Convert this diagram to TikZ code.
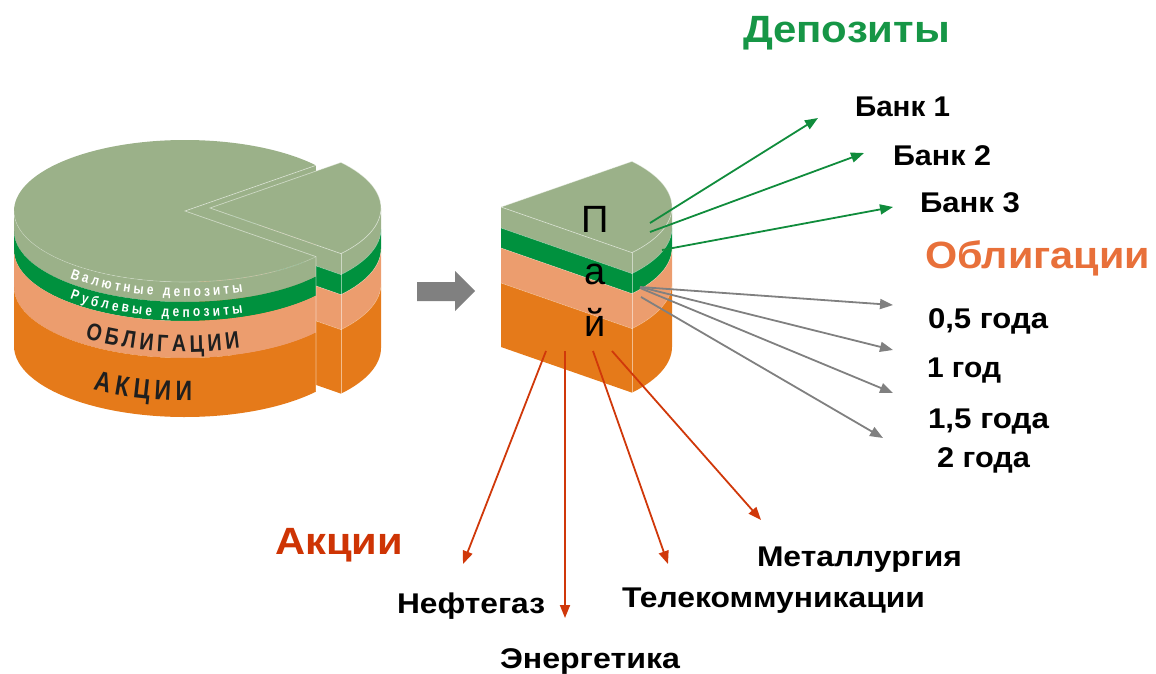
\documentclass[tikz,border=0pt]{standalone}
\usepackage{fontspec}
\setmainfont{Liberation Sans}
\newfontfamily\pienarrow[FakeStretch=0.82]{Liberation Sans}
\usetikzlibrary{calc,arrows.meta,decorations.text}
\definecolor{lgreen}{RGB}{155,177,137}
\definecolor{dgreen}{RGB}{0,145,62}
\definecolor{lorange}{RGB}{236,157,110}
\definecolor{dorange}{RGB}{229,122,26}
\definecolor{arrgreen}{RGB}{16,140,60}
\definecolor{arrgray}{RGB}{128,128,128}
\definecolor{arrred}{RGB}{208,56,10}
\definecolor{hgreen}{RGB}{22,150,70}
\definecolor{horange}{RGB}{232,112,58}
\definecolor{hred}{RGB}{206,52,4}
\newcommand\lbl[2]{\resizebox{#1pt}{\height}{\fontsize{28.5}{28.5}\selectfont\bfseries #2}}
\newcommand\hdl[2]{\resizebox{#1pt}{\height}{\fontsize{38}{38}\selectfont\bfseries #2}}
\newcommand\pieA{\pienarrow\fontsize{14.5}{14.5}\selectfont\bfseries}
\newcommand\pieB{\pienarrow\fontsize{24}{24}\selectfont\bfseries}
\newcommand\pieC{\pienarrow\fontsize{28}{28}\selectfont\bfseries}
\tikzset{
  edgeline/.style={draw=white, draw opacity=0.5, line width=0.7pt},
  faintline/.style={draw=white, draw opacity=0.3, line width=0.6pt},
  lab/.style={anchor=base west, inner sep=0pt, outer sep=0pt},
  garrow/.style={draw=arrgreen, line width=1.8pt, -{Triangle[length=13pt,width=10pt]}},
  grarrow/.style={draw=arrgray, line width=1.8pt, -{Triangle[length=13pt,width=10pt]}},
  rarrow/.style={draw=arrred, line width=1.8pt, -{Triangle[length=13pt,width=10pt]}},
  ER/.style={x radius=171, y radius=71}
}
% slice with apex #1 (depths 0/21/41/76/140)
\newcommand\drawslice[1]{%
  \foreach \da/\db/\col in {0/21/lgreen,21/41/dgreen,41/76/lorange,76/140/dorange}{%
    \fill[\col] ($(#1)+(0,-\da)$) -- ($(#1)+(-40:171 and 71)+(0,-\da)$) -- ($(#1)+(-40:171 and 71)+(0,-\db)$) -- ($(#1)+(0,-\db)$) -- cycle;
    \fill[\col] ($(#1)+(-40:171 and 71)+(0,-\da)$) arc[start angle=-40,end angle=0,ER] -- ($(#1)+(0:171 and 71)+(0,-\db)$) arc[start angle=0,end angle=-40,ER] -- cycle;
  }
  \fill[lgreen] (#1) -- ($(#1)+(40:171 and 71)$) arc[start angle=40,end angle=-40,ER] -- cycle;
  \foreach \dd in {21,41,76}{%
    \draw[faintline] ($(#1)+(0,-\dd)$) -- ($(#1)+(-40:171 and 71)+(0,-\dd)$) arc[start angle=-40,end angle=0,ER];
  }
  \draw[edgeline] (#1) -- ($(#1)+(40:171 and 71)$) arc[start angle=40,end angle=-40,ER] -- cycle;
  \draw[edgeline] ($(#1)+(-40:171 and 71)$) -- ++(0,-140);
}
\begin{document}
\begin{tikzpicture}[x=1pt,y=1pt]
\useasboundingbox (0,0) rectangle (1156,-674);
\coordinate (C) at (185,-211);
\coordinate (SL) at (210,-208);
\coordinate (SR) at (501,-207);

% big pie: cut face at 40 degrees
\foreach \da/\db/\col in {0/20/lgreen,20/39/dgreen,39/76/lorange,76/135/dorange}{%
  \fill[\col] ($(C)+(0,-\da)$) -- ($(C)+(40:171 and 71)+(0,-\da)$) -- ($(C)+(40:171 and 71)+(0,-\db)$) -- ($(C)+(0,-\db)$) -- cycle;
}
% detached slice of the left pie
\drawslice{SL}
% big pie: sides and top
\foreach \da/\db/\col in {0/20/lgreen,20/39/dgreen,39/76/lorange,76/135/dorange}{%
  \fill[\col] ($(C)+(180:171 and 71)+(0,-\da)$) arc[start angle=180,end angle=320,ER] -- ($(C)+(320:171 and 71)+(0,-\db)$) arc[start angle=320,end angle=180,ER] -- cycle;
}
\fill[lgreen] (C) -- ($(C)+(40:171 and 71)$) arc[start angle=40,end angle=320,ER] -- cycle;
\draw[edgeline] ($(C)+(40:171 and 71)$) -- (C) -- ($(C)+(320:171 and 71)$) -- ++(0,-135);
\draw[faintline] ($(C)+(180:171 and 71)$) arc[start angle=180,end angle=320,ER];

% texts on the big pie
\path[decorate, decoration={text along path, text color=white, text align={fit to path},
  text={|\pieA|Валютные депозиты}}]
  ($(C)+(227.7:171 and 71)+(0,-14.5)$) arc[start angle=227.7,end angle=289.8,ER];
\path[decorate, decoration={text along path, text color=white, text align={fit to path},
  text={|\pieA|Рублевые депозиты}}]
  ($(C)+(227.7:171 and 71)+(0,-35)$) arc[start angle=227.7,end angle=289.8,ER];
\path[decorate, decoration={text along path, text color=black!88, text align={fit to path},
  text={|\pieB|ОБЛИГАЦИИ}}]
  ($(C)+(234.2:171 and 71)+(0,-70)$) arc[start angle=234.2,end angle=288.8,ER];
\path[decorate, decoration={text along path, text color=black!88, text align={fit to path},
  text={|\pieC|АКЦИИ}}]
  ($(C)+(237.4:171 and 71)+(0,-119)$) arc[start angle=237.4,end angle=272.4,ER];

% block arrow
\fill[arrgray] (417,-282) -- (455,-282) -- (455,-271) -- (475,-291) -- (455,-311) -- (455,-301) -- (417,-301) -- cycle;

% right slice
\drawslice{SR}
\node[inner sep=0pt, align=center, font=\fontsize{38}{52}\selectfont] (pai) at (595,-271.4) {П\\а\\й};

% labels
\node[lab, text=hgreen] (dep) at (743,-43) {\hdl{207}{Депозиты}};
\node[lab] (b1) at (855,-117) {\lbl{95}{Банк 1}};
\node[lab] (b2) at (893,-165.5) {\lbl{98}{Банк 2}};
\node[lab] (b3) at (920,-212.5) {\lbl{100}{Банк 3}};
\node[lab, text=horange] (obl) at (925,-268) {\hdl{225}{Облигации}};
\node[lab] (o1) at (928,-328) {\lbl{120}{0,5 года}};
\node[lab] (o2) at (927,-377) {\lbl{74}{1 год}};
\node[lab] (o3) at (928,-428) {\lbl{121}{1,5 года}};
\node[lab] (o4) at (937,-467) {\lbl{93}{2 года}};
\node[lab, text=hred] (akc) at (275,-554) {\hdl{128}{Акции}};
\node[lab] (a1) at (397,-613.5) {\lbl{148}{Нефтегаз}};
\node[lab] (a2) at (500,-668.5) {\lbl{180}{Энергетика}};
\node[lab] (a3) at (622,-607.5) {\lbl{303}{Телекоммуникации}};
\node[lab] (a4) at (757,-566.5) {\lbl{205}{Металлургия}};

% arrow end points
\coordinate (g1s) at (650,-223); \coordinate (g1e) at (818,-118);
\coordinate (g2s) at (650,-232); \coordinate (g2e) at (864,-153);
\coordinate (g3s) at (662,-250); \coordinate (g3e) at (893,-207);
\coordinate (y1s) at (640,-287); \coordinate (y1e) at (893,-305);
\coordinate (y2s) at (640,-287); \coordinate (y2e) at (893,-350);
\coordinate (y3s) at (640,-288); \coordinate (y3e) at (893,-393);
\coordinate (y4s) at (641,-297); \coordinate (y4e) at (883,-438);
\coordinate (r1s) at (546,-351); \coordinate (r1e) at (463,-564);
\coordinate (r2s) at (565,-351); \coordinate (r2e) at (565,-618);
\coordinate (r3s) at (593,-351); \coordinate (r3e) at (668,-564);
\coordinate (r4s) at (612,-351); \coordinate (r4e) at (761,-520);

\draw[garrow] (g1s) -- (g1e);
\draw[garrow] (g2s) -- (g2e);
\draw[garrow] (g3s) -- (g3e);
\draw[grarrow] (y1s) -- (y1e);
\draw[grarrow] (y2s) -- (y2e);
\draw[grarrow] (y3s) -- (y3e);
\draw[grarrow] (y4s) -- (y4e);
\draw[rarrow] (r1s) -- (r1e);
\draw[rarrow] (r2s) -- (r2e);
\draw[rarrow] (r3s) -- (r3e);
\draw[rarrow] (r4s) -- (r4e);
\end{tikzpicture}
\end{document}
